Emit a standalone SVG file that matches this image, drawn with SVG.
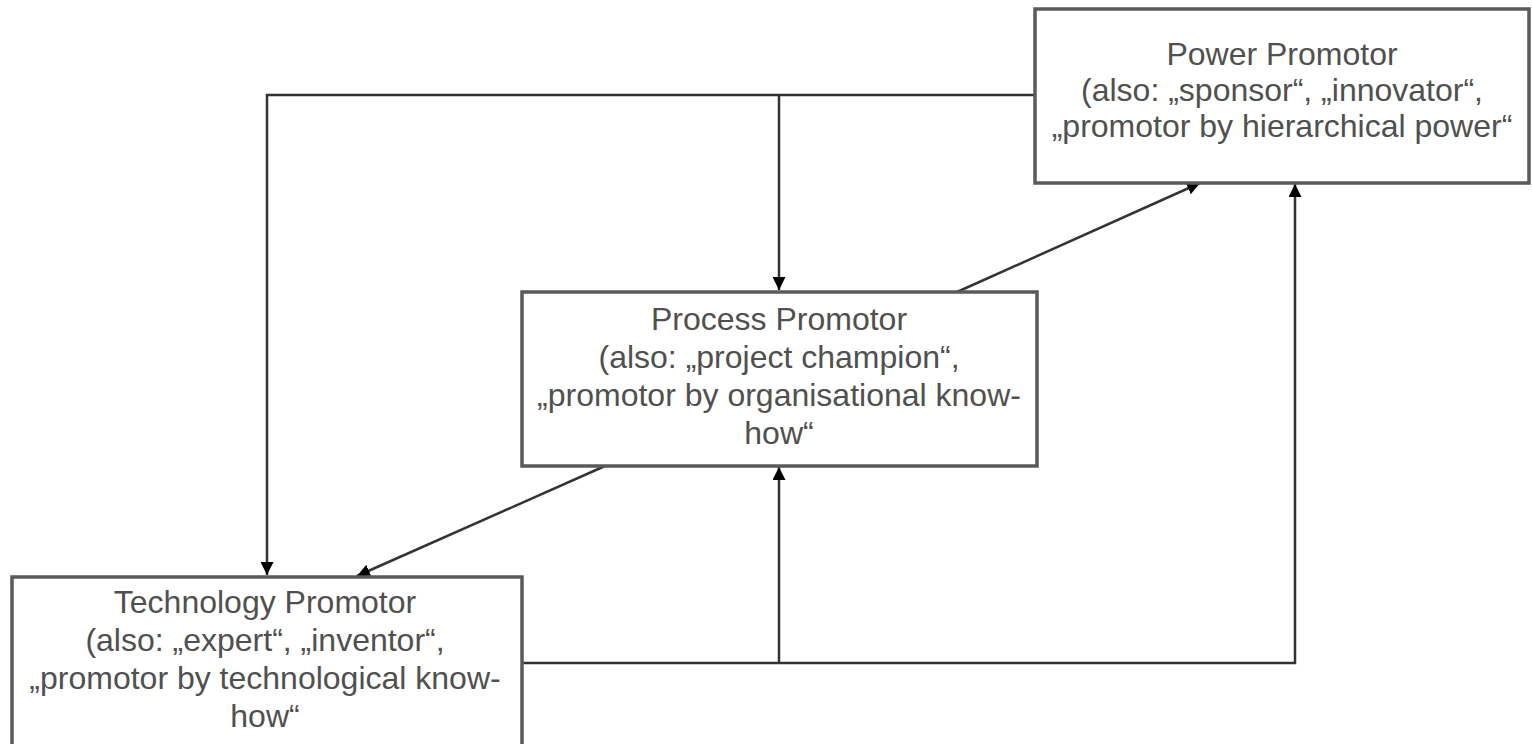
<svg xmlns="http://www.w3.org/2000/svg" width="1532" height="744" viewBox="0 0 1532 744">
<style>
.box{fill:#fff;stroke:#5a5a5a;stroke-width:3.5}
.t{font-family:"Liberation Sans",Arial,sans-serif;font-size:32px;fill:#505050;text-anchor:middle}
.c{fill:none;stroke:#333;stroke-width:2.5}
</style>
<defs>
<marker id="ah" viewBox="0 0 10 10" refX="10" refY="5" markerWidth="13" markerHeight="13" markerUnits="userSpaceOnUse" orient="auto">
<path d="M0,0 L10,5 L0,10 z" fill="#000"/>
</marker>
</defs>
<rect width="1532" height="744" fill="#fff"/>
<g id="connectors">
<polyline class="c" points="1035,95 267,95 267,575" marker-end="url(#ah)"/>
<line class="c" x1="779" y1="95" x2="779" y2="290" marker-end="url(#ah)"/>
<line class="c" x1="957" y1="292" x2="1200" y2="183" marker-end="url(#ah)"/>
<line class="c" x1="605" y1="466" x2="357" y2="576" marker-end="url(#ah)"/>
<polyline class="c" points="522,663 1295,663 1295,184" marker-end="url(#ah)"/>
<line class="c" x1="779" y1="663" x2="779" y2="467" marker-end="url(#ah)"/>
</g>
<g id="power">
<rect class="box" x="1035" y="9" width="494" height="174"/>
<text class="t" x="1282" y="65">Power Promotor</text>
<text class="t" x="1282" y="101">(also: „sponsor“, „innovator“,</text>
<text class="t" x="1282" y="137">„promotor by hierarchical power“</text>
</g>
<g id="process">
<rect class="box" x="522" y="292" width="515" height="174"/>
<text class="t" x="779" y="330">Process Promotor</text>
<text class="t" x="779" y="368">(also: „project champion“,</text>
<text class="t" x="779" y="406">„promotor by organisational know-</text>
<text class="t" x="779" y="444">how“</text>
</g>
<g id="technology">
<rect class="box" x="12" y="577" width="510" height="180"/>
<text class="t" x="265" y="613">Technology Promotor</text>
<text class="t" x="265" y="651">(also: „expert“, „inventor“,</text>
<text class="t" x="265" y="689">„promotor by technological know-</text>
<text class="t" x="265" y="727">how“</text>
</g>
</svg>
